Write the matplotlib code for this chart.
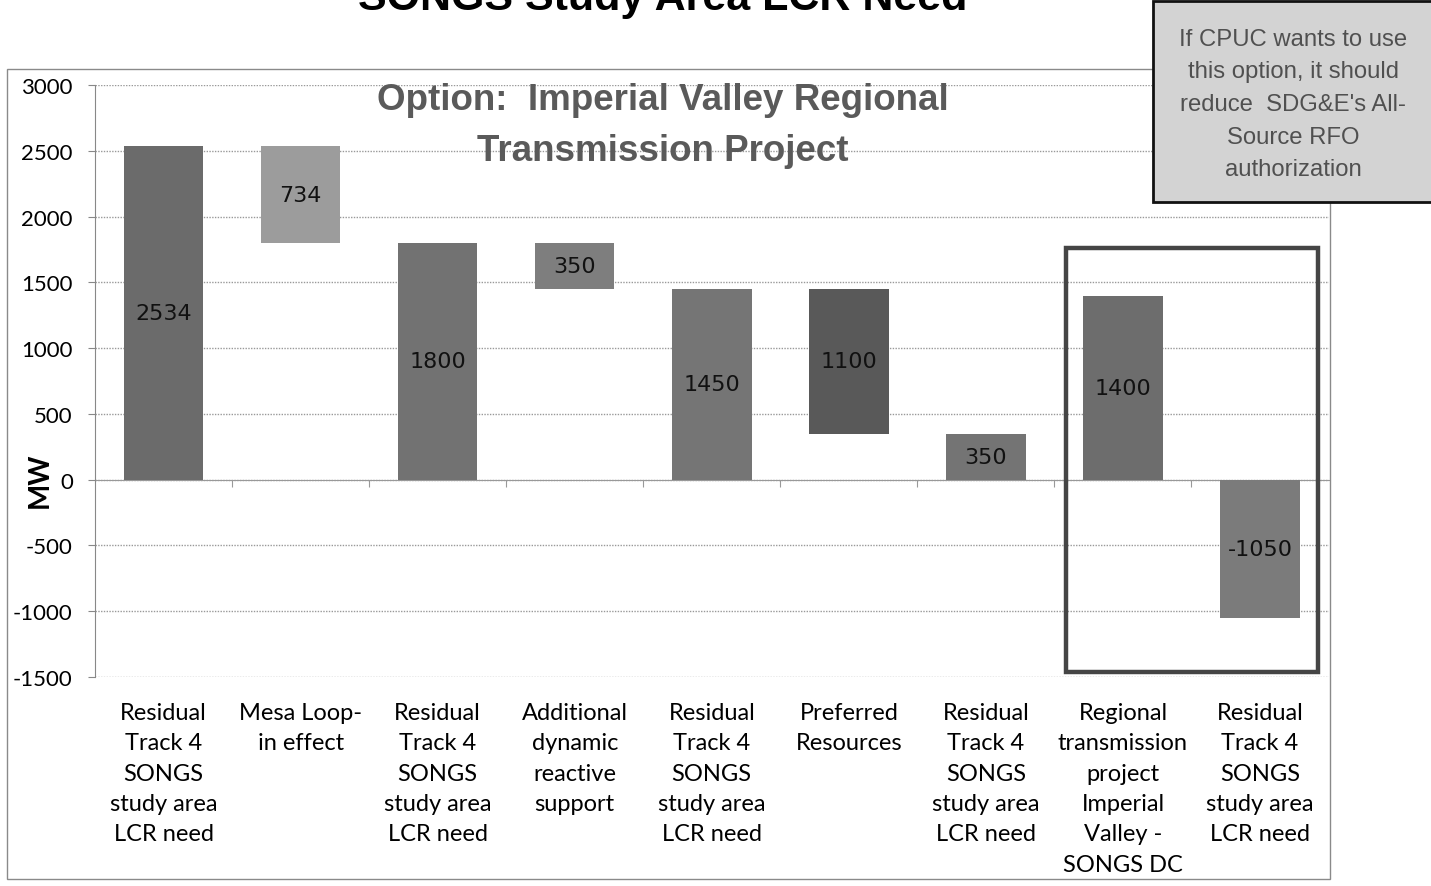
import matplotlib.pyplot as plt
from matplotlib.patches import Rectangle

plt.rcParams["font.family"] = "Lato"
plt.rcParams["axes.unicode_minus"] = False

categories = ["Residual\nTrack 4\nSONGS\nstudy area\nLCR need",
              "Mesa Loop-\nin effect",
              "Residual\nTrack 4\nSONGS\nstudy area\nLCR need",
              "Additional\ndynamic\nreactive\nsupport",
              "Residual\nTrack 4\nSONGS\nstudy area\nLCR need",
              "Preferred\nResources",
              "Residual\nTrack 4\nSONGS\nstudy area\nLCR need",
              "Regional\ntransmission\nproject\nImperial\nValley -\nSONGS DC",
              "Residual\nTrack 4\nSONGS\nstudy area\nLCR need"]
values = [2534, 734, 1800, 350, 1450, 1100, 350, 1400, -1050]
bottoms = [0, 1800, 0, 1450, 0, 350, 0, 0, 0]
bar_colors = ["#6b6b6b", "#9c9c9c", "#727272", "#7e7e7e", "#757575",
              "#595959", "#747474", "#6d6d6d", "#7b7b7b"]
yticks = [3000, 2500, 2000, 1500, 1000, 500, 0, -500, -1000, -1500]

fig = plt.figure(figsize=(14.31, 8.87), dpi=100)
ax = fig.add_axes([0.0664, 0.2356, 0.862, 0.6674])

x = list(range(len(values)))
bars = ax.bar(x, values, bottom=bottoms, width=0.58, color=bar_colors)
for xi, v, b in zip(x, values, bottoms):
    ax.text(xi, b + v / 2, str(v), ha="center", va="center",
            fontsize=16, family="DejaVu Sans", color="#111111")

ax.set_xlim(-0.5, len(values) - 0.5)
ax.set_ylim(-1500, 3000)
ax.set_yticks(yticks)
ax.tick_params(axis="y", labelsize=16, length=5, color="#888888", pad=11)
ax.set_xticks(x)
ax.set_xticklabels(categories, fontsize=17, linespacing=1.55)
ax.tick_params(axis="x", length=0, pad=18)
ax.yaxis.grid(True, color="#999999", linestyle=(0, (1, 1)), linewidth=1)
ax.set_axisbelow(True)
for s in ["top", "right", "bottom"]:
    ax.spines[s].set_visible(False)
ax.spines["left"].set_color("#888888")

# zero line with category boundary ticks
sec = ax.secondary_xaxis(1 / 3)
sec.set_xticks([i + 0.5 for i in x[:-1]], labels=[])
sec.tick_params(length=5, color="#999999", direction="out")
sec.spines["bottom"].set_color("#999999")

ax.set_ylabel("MW", fontsize=20, fontweight="bold")
ax.yaxis.set_label_coords(-0.034, 1 / 3)

ax.text(0.46, 0.933, "Option:  Imperial Valley Regional\nTransmission Project",
        transform=ax.transAxes, ha="center", va="center", fontsize=26.5,
        fontweight="bold", family="Liberation Sans", color="#5a5a5a",
        linespacing=1.6)

# highlight box around the last two categories
ax.add_patch(Rectangle((0.787, 0.0084), 0.2045, 0.7163, transform=ax.transAxes,
                       fill=False, edgecolor="#454545", linewidth=3.2,
                       clip_on=False, zorder=5))

# outer chart border
fig.patches.append(Rectangle((0.0049, 0.0079), 0.9245, 0.9131,
                             transform=fig.transFigure, fill=False,
                             edgecolor="#8a8a8a", linewidth=1))

fig.text(0.463, 0.9887, "SONGS Study Area LCR Need", ha="center",
         va="baseline", fontsize=31, fontweight="bold",
         family="Liberation Sans", color="black")

# note box top right
fig.patches.append(Rectangle((1153 / 1431, 1 - 203 / 887), 0.21, 201 / 887,
                             transform=fig.transFigure, facecolor="#d3d3d3",
                             edgecolor="#111111", linewidth=2, zorder=6))
fig.text(1293 / 1431, 1 - 105 / 887,
         "If CPUC wants to use\nthis option, it should\nreduce  SDG&E's All-\nSource RFO\nauthorization",
         ha="center", va="center", fontsize=17.2, family="Liberation Sans",
         color="#505050", linespacing=1.63, zorder=7)

fig.savefig("out.png", dpi=100)
